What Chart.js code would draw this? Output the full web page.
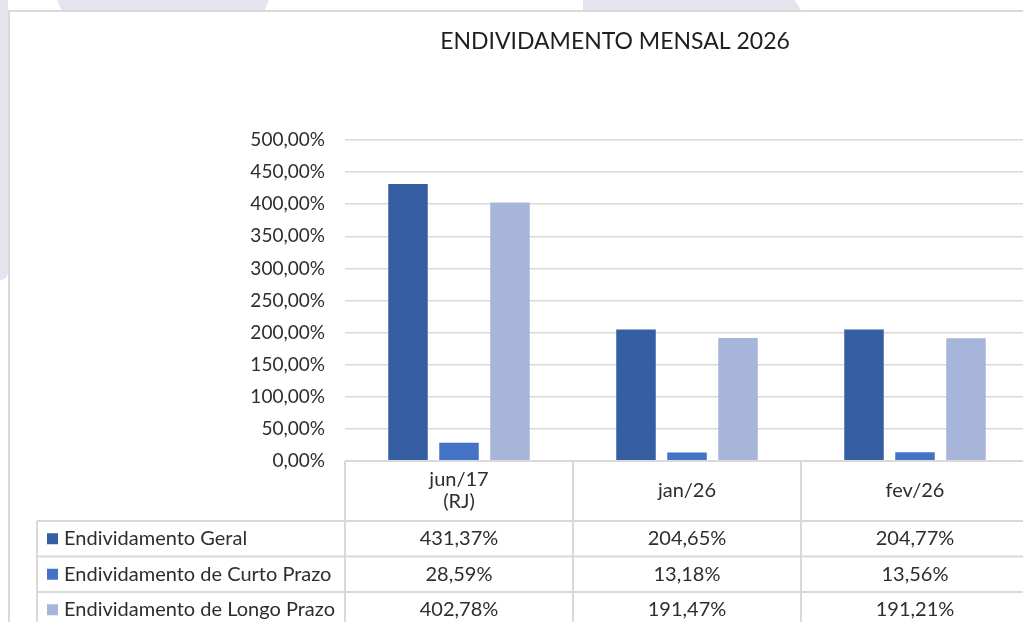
<!DOCTYPE html>
<html>
<head>
<meta charset="utf-8">
<script src="https://cdn.jsdelivr.net/npm/chart.js@4/dist/chart.umd.min.js"></script>
<style>
  html, body { margin: 0; padding: 0; width: 1023px; height: 622px; overflow: hidden; background: #fff; }
  .shape { position: absolute; background: #e3e4ee; }
  #wrap { position: absolute; left: 8px; top: 10px; width: 1100px; height: 700px;
          border-left: 2px solid #d9d9d9; border-top: 2px solid #d9d9d9; background: #fff; }
  #chart { position: absolute; left: 0; top: 0; }
</style>
</head>
<body>
<!-- marca d'agua do fundo -->
<div class="shape" style="left:57px;top:0;width:212px;height:10px;clip-path:polygon(0 0,100% 0,98% 100%,2% 100%);"></div>
<div class="shape" style="left:583px;top:0;width:218px;height:10px;clip-path:polygon(0 0,97% 0,100% 100%,0 100%);"></div>
<div class="shape" style="left:0;top:0;width:8px;height:280px;border-bottom-right-radius:8px;"></div>
<div id="wrap"><canvas id="chart" width="1019" height="610"></canvas></div>
<script>
// Dados do grafico
const categorias = [['jun/17', '(RJ)'], 'jan/26', 'fev/26'];
const series = ['Endividamento Geral', 'Endividamento de Curto Prazo', 'Endividamento de Longo Prazo'];
const geral = [431.37, 204.65, 204.77];
const curtoPrazo = [28.59, 13.18, 13.56];
const longoPrazo = [402.78, 191.47, 191.21];
const cores = ['#365fa3', '#4472c4', '#a8b5da'];
const titulo = 'ENDIVIDAMENTO MENSAL 2026';

const FONTE = 'Lato';
const corTexto = '#2e2e2e';
const corLinha = '#d9d9d9';

// Formata numero no padrao brasileiro
function pct(v) {
    return v.toFixed(2).replace('.', ',') + '%';
}

// Plugin: titulo e tabela de dados (como no Excel)
const tabelaPlugin = {
    id: 'tabelaDados',
    afterDraw(chart) {
        const ctx = chart.ctx;
        const area = chart.chartArea;
        const x = chart.scales.x;
        const n = categorias.length;
        const colW = (x.right - x.left) / n;
        const topo = area.bottom;
        const headH = 60;
        const rowH = 35.5;
        const esq = 27;
        const valores = chart.data.datasets.map(d => d.data);

        ctx.save();

        // titulo
        ctx.fillStyle = '#1f1f1f';
        ctx.font = '23px ' + FONTE;
        ctx.textAlign = 'center';
        ctx.textBaseline = 'middle';
        ctx.fillText(titulo, 605, 30);

        // linhas da tabela
        ctx.strokeStyle = corLinha;
        ctx.lineWidth = 2;
        ctx.beginPath();
        ctx.moveTo(x.left, topo);
        ctx.lineTo(chart.width, topo);
        for (let r = 0; r <= series.length; r++) {
            const y = topo + headH + r * rowH;
            ctx.moveTo(esq, y);
            ctx.lineTo(chart.width, y);
        }
        for (let i = 0; i < n; i++) {
            const cx = x.left + i * colW;
            ctx.moveTo(cx, topo);
            ctx.lineTo(cx, chart.height);
        }
        ctx.moveTo(esq, topo + headH);
        ctx.lineTo(esq, chart.height);
        ctx.stroke();

        // cabecalho (categorias)
        ctx.fillStyle = corTexto;
        ctx.font = '20px ' + FONTE;
        categorias.forEach((c, i) => {
            const cx = x.getPixelForValue(i);
            const cy = topo + headH / 2;
            if (Array.isArray(c)) {
                c.forEach((linha, k) => {
                    ctx.fillText(linha, cx, cy + (k - (c.length - 1) / 2) * 22);
                });
            } else {
                ctx.fillText(c, cx, cy);
            }
        });

        // linhas de series
        series.forEach((nome, s) => {
            const cy = topo + headH + s * rowH + rowH / 2;
            ctx.fillStyle = cores[s];
            ctx.fillRect(37, cy - 5.5, 11, 11);
            ctx.fillStyle = corTexto;
            ctx.textAlign = 'left';
            ctx.fillText(nome, 54, cy);
            ctx.textAlign = 'center';
            valores[s].forEach((v, i) => {
                ctx.fillText(pct(v), x.getPixelForValue(i), cy);
            });
        });

        ctx.restore();
    }
};

const ctx = document.getElementById('chart').getContext('2d');
new Chart(ctx, {
    type: 'bar',
    data: {
        labels: categorias,
        datasets: [
            { label: series[0], data: geral, backgroundColor: cores[0] },
            { label: series[1], data: curtoPrazo, backgroundColor: cores[1] },
            { label: series[2], data: longoPrazo, backgroundColor: cores[2] },
        ],
    },
    options: {
        responsive: false,
        animation: false,
        datasets: {
            bar: { categoryPercentage: 0.671, barPercentage: 0.775 },
        },
        layout: { padding: { top: 128, bottom: 161, left: 0, right: 0 } },
        scales: {
            x: { display: false },
            y: {
                min: 0,
                max: 500,
                ticks: {
                    stepSize: 50,
                    padding: 20,
                    color: corTexto,
                    font: { family: FONTE, size: 19 },
                    callback: v => pct(v),
                },
                grid: { color: corLinha, lineWidth: 1.5, drawTicks: false },
                border: { display: false },
                afterFit: s => { s.width = 335; },
            },
        },
        plugins: {
            legend: { display: false },
            title: { display: false },
            tooltip: { enabled: false },
        },
    },
    plugins: [tabelaPlugin],
});
</script>
</body>
</html>
